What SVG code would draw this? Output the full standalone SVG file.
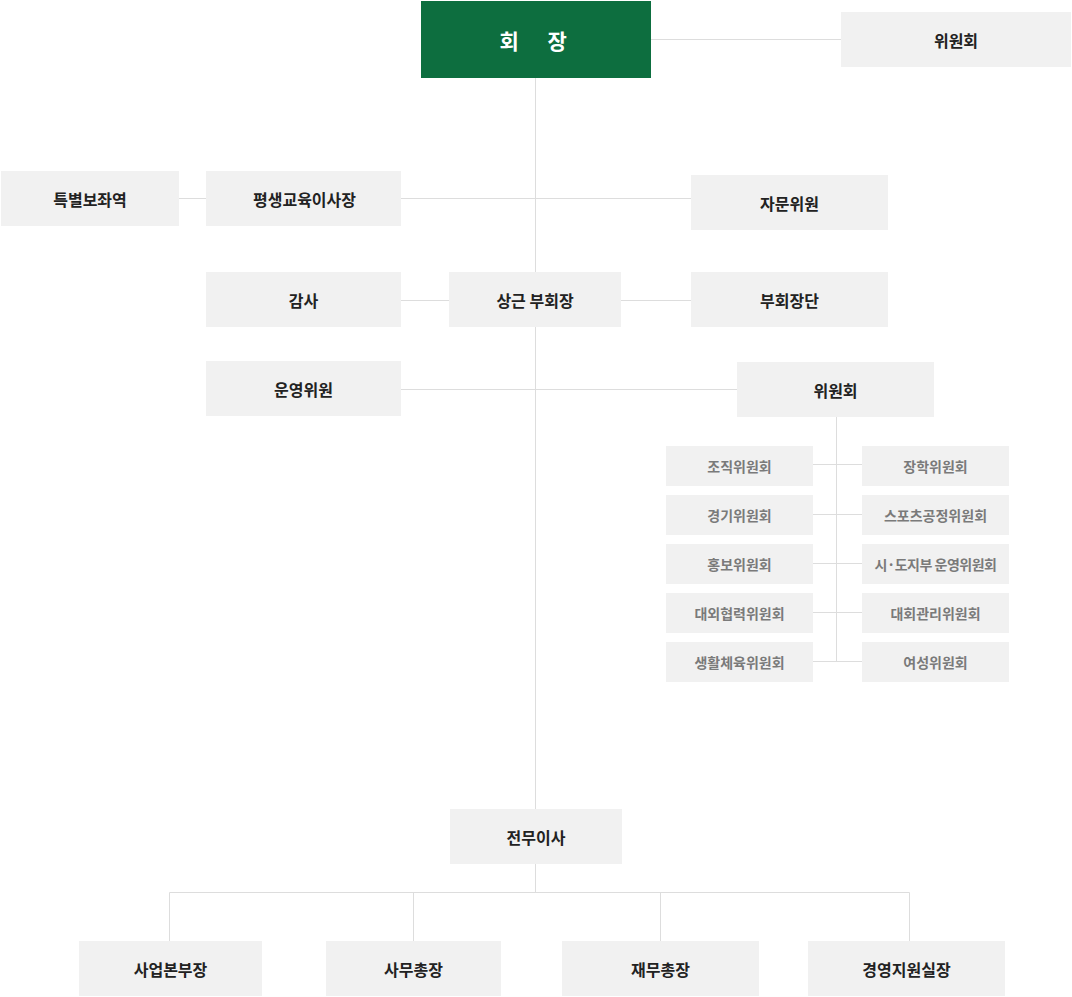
<svg xmlns="http://www.w3.org/2000/svg" width="1072" height="997" viewBox="0 0 1072 997">
<style>
.box{fill:#f1f1f1}
.top{fill:#0d6e3f}
.t{font-family:"Noto Sans CJK KR","Noto Sans",sans-serif;font-size:16px;font-weight:700;fill:#222;text-anchor:middle;dominant-baseline:central}
.s{font-family:"Noto Sans CJK KR","Noto Sans",sans-serif;font-size:14px;font-weight:700;fill:#7a7a7a;text-anchor:middle;dominant-baseline:central}
.h{font-family:"Noto Sans CJK KR","Noto Sans",sans-serif;font-size:21px;font-weight:700;fill:#fff;dominant-baseline:central}
.ln{fill:none;stroke:#dddddd;stroke-width:1}
</style>
<rect width="1072" height="997" fill="#fff"/>
<g id="connectors" class="ln">
<path d="M651 39.5H841"/>
<path d="M535.5 78V809"/>
<path d="M179 198.5H206"/>
<path d="M401 198.5H691"/>
<path d="M401 300.5H449M621 300.5H691"/>
<path d="M401 389.5H737"/>
<path d="M836.5 417V661.5"/>
<path d="M813 464.5H862M813 514.5H862M813 563.5H862M813 612.5H862M813 661.5H862"/>
<path d="M535.5 864V892.5"/>
<path d="M169.5 892.5H909.5"/>
<path d="M169.5 892.5V941M413.5 892.5V941M660.5 892.5V941M909.5 892.5V941"/>
</g>
<g id="president"><rect class="top" x="421" y="1" width="230" height="77"/><text class="h" x="499.5" y="40" letter-spacing="12">회 장</text></g>
<g id="committee-top"><rect class="box" x="841" y="12" width="230" height="55"/><text class="t" x="956" y="39.5">위원회</text></g>
<g id="special-aide"><rect class="box" x="1" y="171" width="178" height="55"/><text class="t" x="90" y="198.5">특별보좌역</text></g>
<g id="lifelong-edu"><rect class="box" x="206" y="171" width="195" height="55"/><text class="t" x="304.5" y="198.5">평생교육이사장</text></g>
<g id="advisor"><rect class="box" x="691" y="175" width="197" height="55"/><text class="t" x="789.5" y="202.5">자문위원</text></g>
<g id="auditor"><rect class="box" x="206" y="272" width="195" height="55"/><text class="t" x="303.5" y="299.5">감사</text></g>
<g id="standing-vp"><rect class="box" x="449" y="272" width="172" height="55"/><text class="t" x="535" y="299.5">상근 부회장</text></g>
<g id="vp-group"><rect class="box" x="691" y="272" width="197" height="55"/><text class="t" x="789.5" y="299.5">부회장단</text></g>
<g id="steering"><rect class="box" x="206" y="361" width="195" height="55"/><text class="t" x="303.5" y="388.5">운영위원</text></g>
<g id="committee"><rect class="box" x="737" y="362" width="197" height="55"/><text class="t" x="835.5" y="389.5">위원회</text></g>
<g id="c-org"><rect class="box" x="666" y="446" width="147" height="40"/><text class="s" x="739.5" y="466">조직위원회</text></g>
<g id="c-game"><rect class="box" x="666" y="495" width="147" height="40"/><text class="s" x="739.5" y="515">경기위원회</text></g>
<g id="c-pr"><rect class="box" x="666" y="544" width="147" height="40"/><text class="s" x="739.5" y="564">홍보위원회</text></g>
<g id="c-ext"><rect class="box" x="666" y="593" width="147" height="40"/><text class="s" x="739.5" y="613">대외협력위원회</text></g>
<g id="c-life"><rect class="box" x="666" y="642" width="147" height="40"/><text class="s" x="739.5" y="662">생활체육위원회</text></g>
<g id="c-schol"><rect class="box" x="862" y="446" width="147" height="40"/><text class="s" x="935.5" y="466">장학위원회</text></g>
<g id="c-fair"><rect class="box" x="862" y="495" width="147" height="40"/><text class="s" x="935.5" y="515">스포츠공정위원회</text></g>
<g id="c-branch"><rect class="box" x="862" y="544" width="147" height="40"/><text class="s" x="935.5" y="564" font-size="13" letter-spacing="-0.5">시·도지부 운영위원회</text></g>
<g id="c-event"><rect class="box" x="862" y="593" width="147" height="40"/><text class="s" x="935.5" y="613">대회관리위원회</text></g>
<g id="c-women"><rect class="box" x="862" y="642" width="147" height="40"/><text class="s" x="935.5" y="662">여성위원회</text></g>
<g id="exec-director"><rect class="box" x="450" y="809" width="172" height="55"/><text class="t" x="536" y="836.5">전무이사</text></g>
<g id="biz-head"><rect class="box" x="79" y="941" width="183" height="55"/><text class="t" x="170.5" y="968.5">사업본부장</text></g>
<g id="sec-general"><rect class="box" x="326" y="941" width="175" height="55"/><text class="t" x="413.5" y="968.5">사무총장</text></g>
<g id="finance"><rect class="box" x="562" y="941" width="197" height="55"/><text class="t" x="660.5" y="968.5">재무총장</text></g>
<g id="management"><rect class="box" x="808" y="941" width="197" height="55"/><text class="t" x="906.5" y="968.5">경영지원실장</text></g>
</svg>
